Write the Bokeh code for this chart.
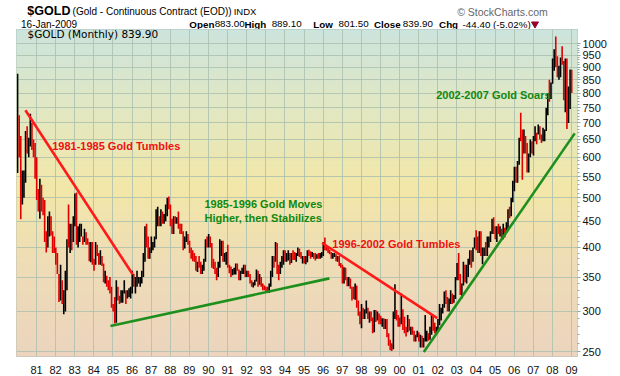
import numpy as np
from bokeh.plotting import figure
from bokeh.layouts import column
from bokeh.models import FixedTicker, Label, ColumnDataSource, BasicTickFormatter
from bokeh.embed import file_html
from bokeh.resources import INLINE

# ---------------- data (monthly HLC, Jan 1980 .. Jan 2009) ----------------
START_YEAR = 1980
HIGH = [
    873, 725, 660, 565, 565, 675, 690, 655, 730, 700, 650, 640,   # 1980
    600, 520, 545, 530, 500, 495, 430, 460, 470, 460, 430, 420,   # 1981
    400, 390, 355, 370, 345, 330, 360, 415, 485, 445, 445, 460,   # 1982
    510, 512, 440, 445, 445, 420, 435, 428, 417, 410, 410, 410,   # 1983
    380, 410, 405, 390, 395, 385, 372, 360, 352, 345, 350, 335,   # 1984
    310, 320, 345, 335, 322, 330, 330, 345, 330, 330, 333, 335,   # 1985
    360, 355, 350, 360, 350, 350, 360, 390, 440, 445, 420, 400,   # 1986
    420, 410, 420, 475, 480, 460, 475, 470, 465, 485, 500, 503,   # 1987
    485, 455, 460, 460, 458, 470, 445, 445, 430, 420, 430, 425,   # 1988
    412, 400, 395, 390, 385, 375, 385, 375, 370, 380, 415, 420,   # 1989
    425, 420, 408, 380, 375, 365, 375, 415, 412, 412, 390, 392,   # 1990
    405, 370, 367, 363, 365, 372, 372, 362, 360, 365, 370, 370,   # 1991
    360, 360, 355, 345, 342, 346, 362, 360, 355, 350, 340, 337,   # 1992
    335, 335, 340, 360, 385, 385, 410, 408, 370, 375, 385, 395,   # 1993
    395, 390, 395, 390, 390, 395, 392, 390, 400, 398, 392, 385,   # 1994
    385, 385, 395, 396, 393, 392, 390, 390, 388, 390, 390, 392,   # 1995
    410, 418, 404, 400, 396, 392, 390, 390, 388, 385, 385, 373,   # 1996
    370, 366, 365, 350, 350, 348, 335, 335, 340, 337, 315, 300,   # 1997
    310, 305, 303, 315, 305, 300, 300, 292, 302, 302, 300, 297,   # 1998
    294, 291, 291, 290, 290, 272, 264, 260, 300, 339, 302, 295,   # 1999
    292, 325, 303, 293, 280, 295, 290, 280, 280, 275, 270, 275,   # 2000
    273, 270, 269, 266, 295, 275, 272, 280, 295, 295, 285, 280,   # 2001
    290, 310, 305, 310, 328, 330, 320, 318, 330, 325, 323, 350,   # 2002
    373, 390, 355, 340, 375, 370, 370, 380, 395, 395, 400, 418,   # 2003
    432, 420, 430, 430, 400, 400, 410, 420, 420, 430, 455, 458,   # 2004
    440, 440, 445, 440, 435, 445, 437, 448, 475, 480, 500, 540,   # 2005
    575, 575, 590, 655, 733, 680, 680, 660, 640, 610, 650, 645,   # 2006
    660, 690, 670, 695, 690, 665, 685, 680, 750, 800, 850, 840,   # 2007
    935, 975, 1033, 945, 905, 940, 988, 925, 935, 935, 825, 890,  # 2008
    889,                                                          # 2009
]
LOW = [
    559, 600, 454, 485, 500, 535, 610, 600, 630, 620, 600, 545,   # 1980
    495, 470, 455, 470, 462, 410, 391, 400, 420, 422, 390, 390,   # 1981
    370, 355, 313, 315, 310, 296, 300, 330, 400, 390, 395, 410,   # 1982
    440, 405, 400, 410, 420, 405, 410, 405, 405, 376, 374, 370,   # 1983
    360, 370, 385, 370, 370, 368, 342, 340, 335, 330, 325, 305,   # 1984
    300, 284, 285, 315, 310, 312, 312, 325, 310, 318, 320, 318,   # 1985
    325, 335, 325, 335, 340, 335, 340, 350, 375, 400, 380, 380,   # 1986
    390, 395, 400, 415, 440, 440, 440, 445, 445, 450, 460, 475,   # 1987
    440, 425, 425, 445, 445, 435, 425, 425, 395, 398, 410, 405,   # 1988
    390, 380, 376, 375, 360, 358, 365, 355, 355, 360, 375, 400,   # 1989
    400, 400, 365, 363, 355, 345, 350, 365, 385, 375, 375, 370,   # 1990
    365, 356, 350, 353, 354, 354, 360, 345, 345, 355, 355, 350,   # 1991
    350, 350, 340, 335, 334, 337, 343, 335, 338, 335, 330, 330,   # 1992
    327, 326, 326, 335, 350, 365, 375, 355, 345, 355, 365, 370,   # 1993
    375, 375, 377, 370, 373, 378, 378, 375, 385, 383, 380, 372,   # 1994
    372, 371, 374, 385, 380, 383, 380, 377, 380, 380, 380, 382,   # 1995
    385, 395, 394, 390, 388, 380, 380, 383, 376, 375, 368, 365,   # 1996
    340, 340, 345, 336, 336, 332, 315, 317, 316, 305, 294, 283,   # 1997
    278, 290, 290, 297, 290, 285, 287, 272, 273, 286, 288, 283,   # 1998
    283, 280, 277, 277, 267, 257, 252, 251, 253, 290, 288, 280,   # 1999
    280, 283, 276, 272, 268, 273, 275, 270, 270, 262, 262, 267,   # 2000
    262, 255, 255, 255, 262, 262, 263, 264, 270, 275, 272, 270,   # 2001
    276, 282, 288, 297, 305, 310, 300, 300, 310, 310, 312, 317,   # 2002
    345, 345, 323, 318, 337, 342, 340, 350, 370, 365, 375, 398,   # 2003
    395, 390, 390, 385, 371, 385, 385, 385, 400, 410, 425, 425,   # 2004
    415, 410, 425, 420, 415, 415, 418, 428, 435, 456, 460, 490,   # 2005
    515, 535, 535, 580, 645, 542, 610, 610, 560, 560, 600, 610,   # 2006
    605, 645, 636, 665, 650, 640, 645, 645, 675, 725, 770, 780,   # 2007
    835, 885, 900, 860, 850, 860, 910, 775, 735, 681, 700, 745,   # 2008
    801,                                                          # 2009
]
CLOSE = [
    653, 637, 494, 518, 535, 653, 614, 631, 666, 629, 619, 589,   # 1980
    506, 489, 513, 482, 479, 423, 406, 425, 428, 427, 414, 400,   # 1981
    388, 362, 320, 359, 317, 317, 342, 411, 397, 423, 414, 448,   # 1982
    480, 410, 414, 430, 437, 413, 423, 413, 405, 382, 405, 382,   # 1983
    373, 394, 393, 378, 384, 373, 347, 348, 341, 333, 329, 309,   # 1984
    306, 298, 331, 321, 316, 317, 327, 333, 326, 326, 326, 327,   # 1985
    350, 339, 343, 343, 345, 345, 357, 384, 423, 401, 383, 391,   # 1986
    405, 405, 419, 450, 451, 447, 462, 453, 459, 468, 492, 484,   # 1987
    458, 426, 457, 449, 455, 438, 437, 432, 398, 412, 422, 410,   # 1988
    392, 388, 384, 379, 363, 373, 368, 360, 367, 376, 409, 402,   # 1989
    415, 407, 369, 367, 364, 352, 372, 387, 408, 380, 383, 386,   # 1990
    367, 363, 355, 357, 360, 368, 362, 348, 355, 357, 366, 353,   # 1991
    354, 353, 342, 337, 338, 343, 357, 342, 350, 340, 334, 333,   # 1992
    330, 329, 338, 355, 378, 375, 405, 372, 356, 370, 372, 391,   # 1993
    378, 381, 390, 377, 387, 386, 384, 386, 395, 384, 383, 383,   # 1994
    375, 376, 392, 389, 384, 387, 385, 383, 385, 383, 387, 387,   # 1995
    405, 401, 397, 392, 390, 382, 385, 386, 379, 379, 371, 369,   # 1996
    345, 364, 349, 341, 345, 335, 326, 324, 333, 311, 297, 290,   # 1997
    303, 297, 301, 306, 293, 297, 288, 274, 294, 293, 294, 289,   # 1998
    288, 288, 280, 287, 272, 262, 256, 255, 300, 300, 292, 290,   # 1999
    285, 294, 279, 276, 274, 289, 278, 278, 273, 264, 270, 273,   # 2000
    265, 267, 258, 264, 267, 270, 265, 273, 293, 279, 275, 279,   # 2001
    282, 296, 303, 309, 326, 318, 305, 313, 323, 317, 318, 347,   # 2002
    368, 349, 336, 337, 363, 346, 355, 375, 385, 384, 398, 416,   # 2003
    403, 397, 427, 388, 394, 395, 391, 410, 419, 428, 453, 438,   # 2004
    423, 435, 430, 436, 417, 437, 430, 433, 473, 470, 495, 518,   # 2005
    569, 556, 584, 655, 646, 616, 634, 627, 598, 605, 648, 636,   # 2006
    653, 668, 667, 680, 658, 650, 667, 673, 747, 794, 783, 838,   # 2007
    927, 973, 917, 864, 888, 926, 913, 833, 884, 718, 816, 884,   # 2008
    840,                                                          # 2009
]

X_TICKS = list(range(1981, 2010))
X_LABELS = ["81", "82", "83", "84", "85", "86", "87", "88", "89", "90",
            "91", "92", "93", "94", "95", "96", "97", "98", "99", "00",
            "01", "02", "03", "04", "05", "06", "07", "08", "09"]
Y_TICKS = list(range(250, 1001, 50))
Y_MINOR = list(range(250, 1001, 10))

# trend lines: (x0, y0, x1, y1) in (year, price)
RED_LINES = [(1980.42, 741, 1986.04, 354), (1995.95, 408, 2001.97, 291)]
GREEN_LINES = [(1984.87, 281, 1996.33, 348), (2001.27, 250, 2009.17, 668)]
NOTES = [  # text, year, price, colour
    ("1981-1985 Gold Tumbles", 1981.82, 631, "#ee1111"),
    ("1985-1996 Gold Moves", 1989.79, 487, "#118811"),
    ("Higher, then Stabilizes", 1989.79, 457, "#118811"),
    ("1996-2002 Gold Tumbles", 1996.48, 407, "#ee1111"),
    ("2002-2007 Gold Soars", 2001.92, 793, "#118811"),
]

# ---------------- layout constants ----------------
W, H = 620, 376
HDR = 29                      # header strip height
FL, FR, FB = 16, 577, 359     # frame left / right / bottom (page px)
X0, X1 = 1979.953, 2009.314
Y0, Y1 = 244.9, 1065.8

# ---------------- header strip ----------------
hf = figure(width=W, height=HDR, output_backend="svg", toolbar_location=None,
            x_range=(0, W), y_range=(HDR, 0), min_border=0)
hf.title.visible = False
hf.axis.visible = False
hf.grid.visible = False
hf.outline_line_color = None
hf.background_fill_color = "white"
hf.border_fill_color = "white"

def hdr(txt, cx, cy, size, bold=False, color="#000000", font="Liberation Sans"):
    hf.add_layout(Label(x=cx, y=cy, text=txt, text_font=font, text_font_size=size,
                        text_font_style="bold" if bold else "normal",
                        text_color=color, text_baseline="middle", text_align="left"))

hdr("$GOLD", 12, 10, "12.5px", bold=True)
hdr("(Gold - Continuous Contract (EOD))", 62, 11, "10px")
hdr("INDX", 240, 11, "9.5px")
hdr("16-Jan-2009", 5, 23.5, "10px")
hdr("© StockCharts.com", 487, 11, "10.5px", color="#666666")
for txt, cx, bold in [("Open", 191, True), ("883.00", 219, False), ("High", 252, True),
                      ("889.10", 282, False), ("Low", 328, True), ("801.50", 356, False),
                      ("Close", 395, True), ("839.90", 427, False), ("Chg", 467, True),
                      ("-44.40 (-5.02%)", 493, False)]:
    hdr(txt, cx, 23.5, "9.8px" if bold else "9.8px", bold=bold)
hf.scatter([573], [23.5], marker="inverted_triangle", size=7,
           fill_color="#99002e", line_color="#99002e")

# ---------------- main chart ----------------
p = figure(width=W, height=H - HDR, output_backend="svg", toolbar_location=None,
           x_range=(X0, X1), y_range=(Y0, Y1), y_axis_type="log",
           y_axis_location="right",
           min_border_left=FL, min_border_right=W - FR,
           min_border_top=0, min_border_bottom=H - FB)
p.title.visible = False
p.background_fill_color = None
p.border_fill_color = "white"
p.outline_line_color = "#9fb6b6"
p.outline_line_width = 1

# background gradient strips (teal -> yellow -> peach)
stops = [(0.0, (204, 228, 221)), (0.22, (224, 231, 196)), (0.48, (242, 231, 168)),
         (0.72, (238, 220, 182)), (1.0, (236, 212, 190))]
def grad(t):
    for (t0, c0), (t1, c1) in zip(stops[:-1], stops[1:]):
        if t <= t1:
            f = (t - t0) / (t1 - t0)
            return "#%02x%02x%02x" % tuple(int(round(a + (b - a) * f)) for a, b in zip(c0, c1))
    return "#%02x%02x%02x" % stops[-1][1]
NS = 110
edges = np.geomspace(Y0, Y1, NS + 1)
cols = [grad(1 - (k + 0.5) / NS) for k in range(NS)]
bg = p.quad(left=X0, right=X1, bottom=edges[:-1], top=edges[1:],
            fill_color=cols, line_color=cols, line_width=1)
bg.level = "image"

# bars
n = len(CLOSE)
xs = [START_YEAR + i / 12 + 0.01 for i in range(n)]
bar_cols = ["#000000"] + ["#000000" if CLOSE[i] >= CLOSE[i - 1] else "#e00000" for i in range(1, n)]
src = ColumnDataSource(dict(x=xs, h=HIGH, l=LOW, c=bar_cols))
p.segment(x0="x", y0="l", x1="x", y1="h", line_color="c", line_width=1.6, source=src)

for (a, b, c, d) in RED_LINES:
    p.line([a, c], [b, d], line_color="#ff1a1a", line_width=2.6)
for (a, b, c, d) in GREEN_LINES:
    p.line([a, c], [b, d], line_color="#1d8f1d", line_width=2.6)

for txt, xx, yy, col in NOTES:
    p.add_layout(Label(x=xx, y=yy, text=txt, text_color=col, text_font="Liberation Sans",
                       text_font_size="11px", text_font_style="bold",
                       text_baseline="middle", text_align="left"))

# in-frame legend
p.add_layout(Label(x=27 - FL, y=(FB - HDR) - (36.5 - HDR), x_units="screen", y_units="screen",
                   text="$GOLD (Monthly) 839.90", text_font="DejaVu Sans",
                   text_font_size="10.5px", text_color="#000000",
                   text_baseline="middle", text_align="left"))

# grids
p.xgrid.ticker = FixedTicker(ticks=X_TICKS)
p.ygrid.ticker = FixedTicker(ticks=Y_TICKS)
for g in (p.xgrid, p.ygrid):
    g.grid_line_color = "#a9bfae"
    g.grid_line_alpha = 0.8
    g.grid_line_width = 1

# axes
xa = p.xaxis[0]
xa.ticker = FixedTicker(ticks=X_TICKS)
xa.major_label_overrides = {t: s for t, s in zip(X_TICKS, X_LABELS)}
xa.axis_line_color = None
xa.major_tick_line_color = None
xa.minor_tick_line_color = None
xa.major_label_standoff = 3
xa.major_label_text_font = "Liberation Sans"
xa.major_label_text_font_size = "11px"
xa.major_label_text_color = "#111111"

ya = p.yaxis[0]
ya.ticker = FixedTicker(ticks=Y_TICKS, minor_ticks=Y_MINOR)
ya.formatter = BasicTickFormatter()
ya.major_label_overrides = {t: str(t) for t in Y_TICKS}
ya.axis_line_color = None
ya.major_tick_line_color = "#8fa8a8"
ya.minor_tick_line_color = "#8fa8a8"
ya.major_tick_out = 3
ya.major_tick_in = 0
ya.minor_tick_out = 2
ya.minor_tick_in = 0
ya.major_label_standoff = 2
ya.major_label_text_font = "Liberation Sans"
ya.major_label_text_font_size = "11px"
ya.major_label_text_color = "#111111"

layout = column(hf, p, spacing=0)
open("out.html", "w").write(file_html(layout, INLINE))
